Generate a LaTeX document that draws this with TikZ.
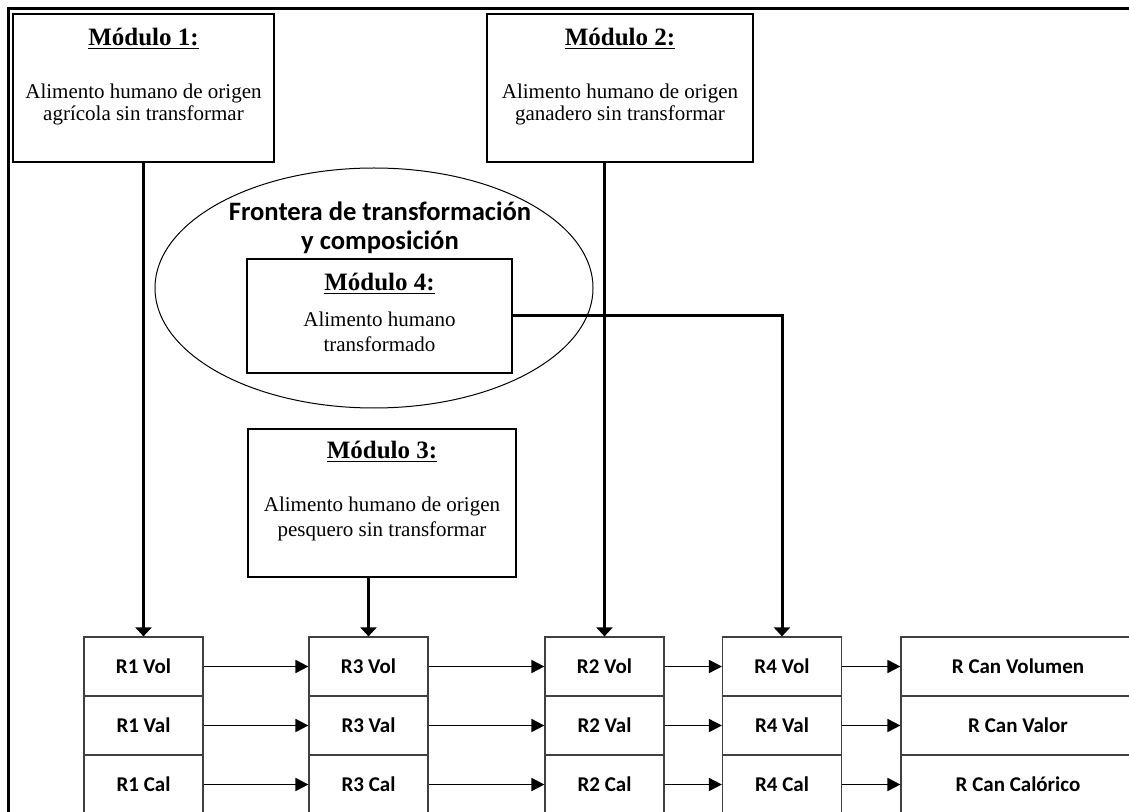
\documentclass[tikz,border=0pt]{standalone}
\usepackage{fontspec}
\setmainfont{Liberation Serif}
\newfontfamily\calibri{Carlito}
\usetikzlibrary{arrows.meta,positioning,shapes.geometric}
\tikzset{%
	modbox/.style   = {draw, rectangle, line width=1pt, inner sep=0pt}, % module
	modtitle/.style = {font=\fontsize{12.5}{15}\selectfont\bfseries},
	modtext/.style  = {align=center, font=\fontsize{10.5}{11}\selectfont},
	widetext/.style = {align=center, font=\fontsize{10.5}{12.75}\selectfont},
	ratebox/.style  = {draw=black!75, rectangle, line width=0.6pt, minimum width=59.5pt, minimum height=29.5pt, inner sep=0pt, font=\calibri\fontsize{10.5}{12}\selectfont\bfseries},
	frontera/.style = {draw, ellipse, line width=0.5pt, minimum width=219pt, minimum height=120pt, inner sep=0pt},
	arrow/.style    = {line width=0.9pt, -{Triangle[length=6.5pt,width=6.5pt]}},
	feed/.style     = {line width=1.5pt, -{Triangle[length=4.5pt,width=8pt]}},
}
\begin{document}
\begin{tikzpicture}[x=0.5pt,y=-0.5pt,node distance=29.5pt]
	\useasboundingbox (0,0) rectangle (1129,812);
	\draw[line width=1.5pt] (8.5,8.5) rectangle (1150,840);
	
	% modulos
	\node [modbox,minimum width=130.5pt,minimum height=74pt] (m1) at (143.5,88) {};
	\node [modtitle] (m1t) at ([yshift=-13pt]m1.north) {\underline{Módulo 1:}};
	\node [modtext] (m1b) at ([yshift=-45.5pt]m1.north) {Alimento humano de origen\\agrícola sin transformar};
	
	\node [modbox,minimum width=133pt,minimum height=74pt] (m2) at (620,88) {};
	\node [modtitle] (m2t) at ([yshift=-13pt]m2.north) {\underline{Módulo 2:}};
	\node [modtext] (m2b) at ([yshift=-45.5pt]m2.north) {Alimento humano de origen\\ganadero sin transformar};
	
	\node [frontera] (front) at (374,288) {};
	\node [align=center,font=\calibri\fontsize{13.3}{14.5}\selectfont\bfseries] (frontlbl) at (380,228) {Frontera de transformación\\y composición};
	
	\node [modbox,minimum width=132.5pt,minimum height=57pt] (m4) at (379.5,316) {};
	\node [modtitle] (m4t) at ([yshift=-13pt]m4.north) {\underline{Módulo 4:}};
	\node [widetext] (m4b) at ([yshift=-37pt]m4.north) {Alimento humano\\transformado};
	
	\node [modbox,minimum width=134pt,minimum height=74pt] (m3) at (382,503) {};
	\node [modtitle] (m3t) at ([yshift=-12pt]m3.north) {\underline{Módulo 3:}};
	\node [widetext] (m3b) at ([yshift=-45.5pt]m3.north) {Alimento humano de origen\\pesquero sin transformar};
	
	% ratios
	\node [ratebox] (r1vol) at (143.5,666.5) {R1 Vol};
	\node [ratebox] (r1val) [below of=r1vol] {R1 Val};
	\node [ratebox] (r1cal) [below of=r1val] {R1 Cal};
	\node [ratebox] (r3vol) at (368.5,666.5) {R3 Vol};
	\node [ratebox] (r3val) [below of=r3vol] {R3 Val};
	\node [ratebox] (r3cal) [below of=r3val] {R3 Cal};
	\node [ratebox] (r2vol) at (604.5,666.5) {R2 Vol};
	\node [ratebox] (r2val) [below of=r2vol] {R2 Val};
	\node [ratebox] (r2cal) [below of=r2val] {R2 Cal};
	\node [ratebox] (r4vol) at (782,666.5) {R4 Vol};
	\node [ratebox] (r4val) [below of=r4vol] {R4 Val};
	\node [ratebox] (r4cal) [below of=r4val] {R4 Cal};
	\node [ratebox,minimum width=117pt] (rcanvol) at (1018,666.5) {R Can Volumen};
	\node [ratebox,minimum width=117pt] (rcanval) [below of=rcanvol] {R Can Valor};
	\node [ratebox,minimum width=117pt] (rcancal) [below of=rcanval] {R Can Calórico};
	
	\foreach \r in {vol,val,cal} {
		\draw[arrow] (r1\r) -- (r3\r);
		\draw[arrow] (r3\r) -- (r2\r);
		\draw[arrow] (r2\r) -- (r4\r);
		\draw[arrow] (r4\r) -- (rcan\r);
	}
	
	\draw[feed] (m1) -- (r1vol);
	\draw[feed] (m3.south -| r3vol.north) -- (r3vol);
	\draw[feed] (m2.south -| r2vol.north) -- (r2vol);
	\draw[feed] (m4) -| (r4vol);
	
\end{tikzpicture}
\end{document}
